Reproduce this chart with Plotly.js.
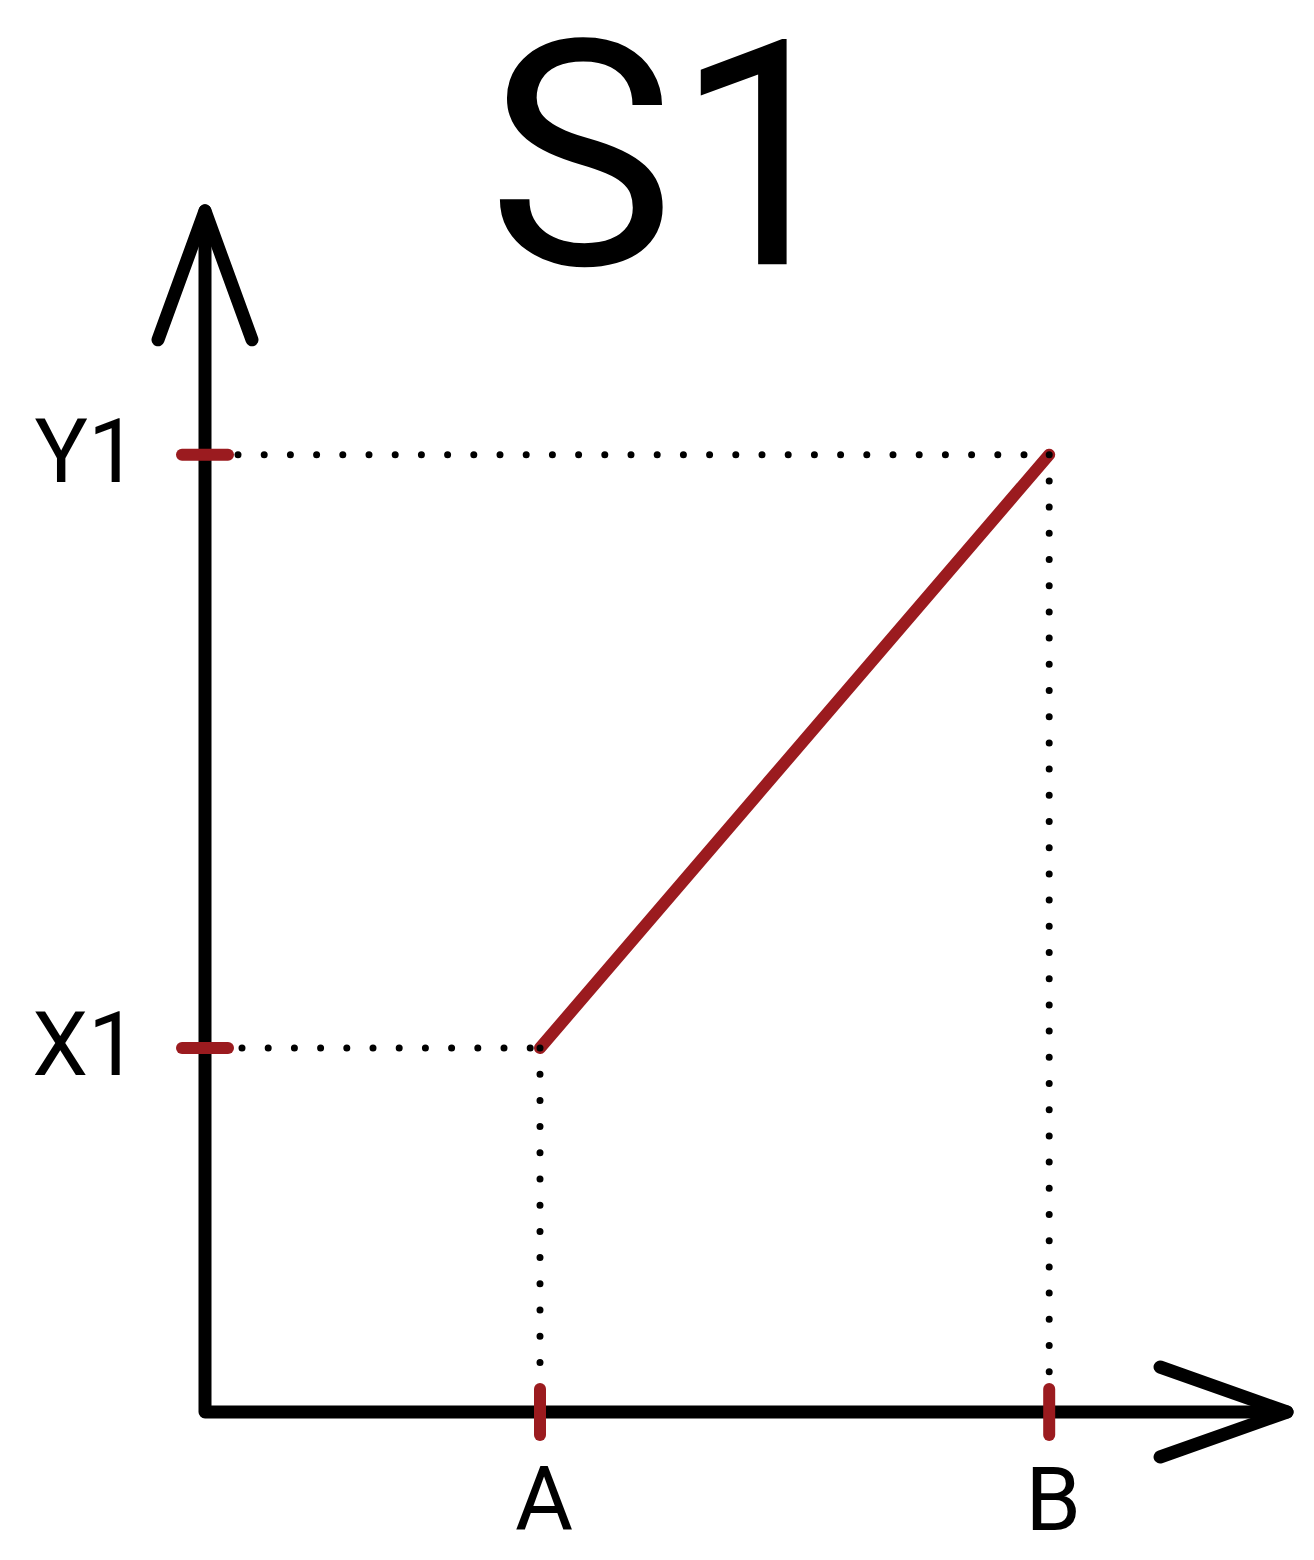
<!DOCTYPE html>
<html>
<head>
<meta charset="utf-8">
<script src="https://cdn.plot.ly/plotly-3.0.1.min.js"></script>
<style>
  html, body { margin: 0; padding: 0; background: #fff; }
  #chart { width: 1314px; height: 1560px; }
  .js-line { stroke-linecap: round !important; stroke-linejoin: round !important; }
</style>
</head>
<body>
<div id="chart"></div>
<script>
// ---- data ----
const xCategories = ['A', 'B'];
const xValues = [1.0, 2.52];
const yCategories = ['X1', 'Y1'];
const yValues = [1.0, 2.63];
const titleText = 'S1';

// ---- layout constants ----
const W = 1314, H = 1560;
const originPxX = 205, originPxY = 1412;
const pxPerUnitX = 335, pxPerUnitY = 364;
const axisTipX = 3.23, axisTipY = 3.30;
const dx = p => p / pxPerUnitX;
const dy = p => p / pxPerUnitY;
const RED = '#9b1b1f';
const BLACK = '#000000';
const FONT = 'Roboto, Liberation Sans, Arial, sans-serif';

const xRange = [-originPxX / pxPerUnitX, (W - originPxX) / pxPerUnitX];
const yRange = [-(H - originPxY) / pxPerUnitY, originPxY / pxPerUnitY];

function seg(x, y, color, width, dash) {
  return { type: 'scatter', mode: 'lines', x: x, y: y, hoverinfo: 'skip',
           line: { color: color, width: width, dash: dash || 'solid' }, showlegend: false };
}

const traces = [];
// axes
traces.push(seg([0, 0, axisTipX], [axisTipY, 0, 0], BLACK, 13));
// arrowheads
traces.push(seg([-dx(47), 0, dx(47)], [axisTipY - dy(129), axisTipY, axisTipY - dy(129)], BLACK, 13));
traces.push(seg([axisTipX - dx(127), axisTipX, axisTipX - dx(127)], [dy(45), 0, -dy(45)], BLACK, 13));
// red line
traces.push(seg([xValues[0], xValues[1]], [yValues[0], yValues[1]], RED, 12));
// dotted guides
const dotDash = '0px,26.2px';
traces.push(seg([dx(33), xValues[1]], [yValues[1], yValues[1]], BLACK, 7, dotDash));
traces.push(seg([xValues[1], xValues[1]], [yValues[1], dy(33)], BLACK, 7, dotDash));
traces.push(seg([dx(37), xValues[0]], [yValues[0], yValues[0]], BLACK, 7, dotDash));
traces.push(seg([xValues[0], xValues[0]], [yValues[0], dy(33)], BLACK, 7, dotDash));
// red ticks
yValues.forEach(v => traces.push(seg([-dx(23), dx(23)], [v, v], RED, 12)));
xValues.forEach(v => traces.push(seg([v, v], [-dy(23), dy(23)], RED, 12)));

const layout = {
  width: W, height: H,
  margin: { l: 0, r: 0, t: 0, b: 0, pad: 0 },
  paper_bgcolor: '#fff', plot_bgcolor: '#fff',
  showlegend: false, hovermode: false,
  title: { text: titleText, font: { family: FONT, size: 315, color: BLACK },
           x: 0.5095, xref: 'container', xanchor: 'center',
           y: 1 - 154 / H, yref: 'container', yanchor: 'middle' },
  xaxis: { range: xRange, showgrid: false, zeroline: false, showline: false, ticks: '',
           tickmode: 'array', tickvals: xValues, ticktext: xCategories,
           tickfont: { family: FONT, size: 89, color: BLACK },
           anchor: 'free', position: (H - originPxY) / H, ticklabelstandoff: 28,
           ticklabelshift: 4, fixedrange: true },
  yaxis: { range: yRange, showgrid: false, zeroline: false, showline: false, ticks: '',
           tickmode: 'array', tickvals: yValues, ticktext: yCategories,
           tickfont: { family: FONT, size: 89, color: BLACK },
           anchor: 'free', position: originPxX / W, ticklabelstandoff: 67,
           ticklabelshift: -4, fixedrange: true }
};

Plotly.newPlot('chart', traces, layout, { staticPlot: true, displayModeBar: false });
</script>
</body>
</html>
